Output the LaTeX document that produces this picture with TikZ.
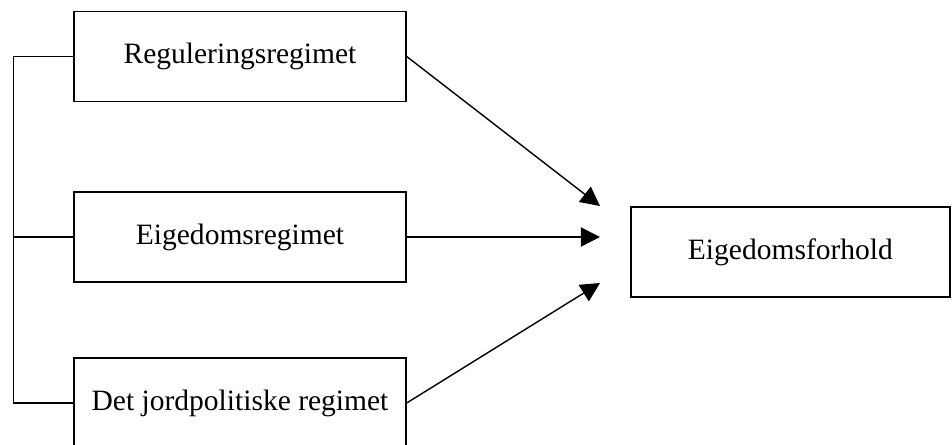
\documentclass[tikz,border=0pt]{standalone}
\usepackage{fontspec}
\setmainfont{Liberation Serif}
\usepackage{tikz}
\usetikzlibrary{arrows.meta}

\begin{document}
\begin{tikzpicture}[
  box/.style={draw, line width=1pt, minimum width=8.3cm, minimum height=2.25cm,
              align=center, inner sep=0pt},
  every node/.style={font=\fontsize{21}{25}\selectfont},
  link/.style={line width=1pt, -{Triangle[length=0.48cm, width=0.48cm]}}
]
  \useasboundingbox (0,0) rectangle (23.8,-11.125);
  \node[box]                      (reg)  at (6.0,-1.4125)  {Reguleringsregimet};
  \node[box]                      (eig)  at (6.0,-5.925)   {Eigedomsregimet};
  \node[box]                      (jord) at (6.0,-10.075)  {Det jordpolitiske regimet};
  \node[box, minimum width=7.975cm] (forh) at (19.76,-6.3) {Eigedomsforhold};
  % the three arrow tips stop short of the box on the right
  \coordinate (t1) at (15.0,-5.15);
  \coordinate (t2) at (15.0,-5.925);
  \coordinate (t3) at (15.0,-7.075);
  \draw[link] (reg.east)  -- (t1);
  \draw[link] (eig.east)  -- (t2);
  \draw[link] (jord.east) -- (t3);
  % bracket tying the regimes together
  \draw[line width=1pt] (reg.west) -- ++(-1.5,0) |- (jord.west);
  \draw[line width=1pt] (eig.west) -- ++(-1.5,0);
\end{tikzpicture}
\end{document}
